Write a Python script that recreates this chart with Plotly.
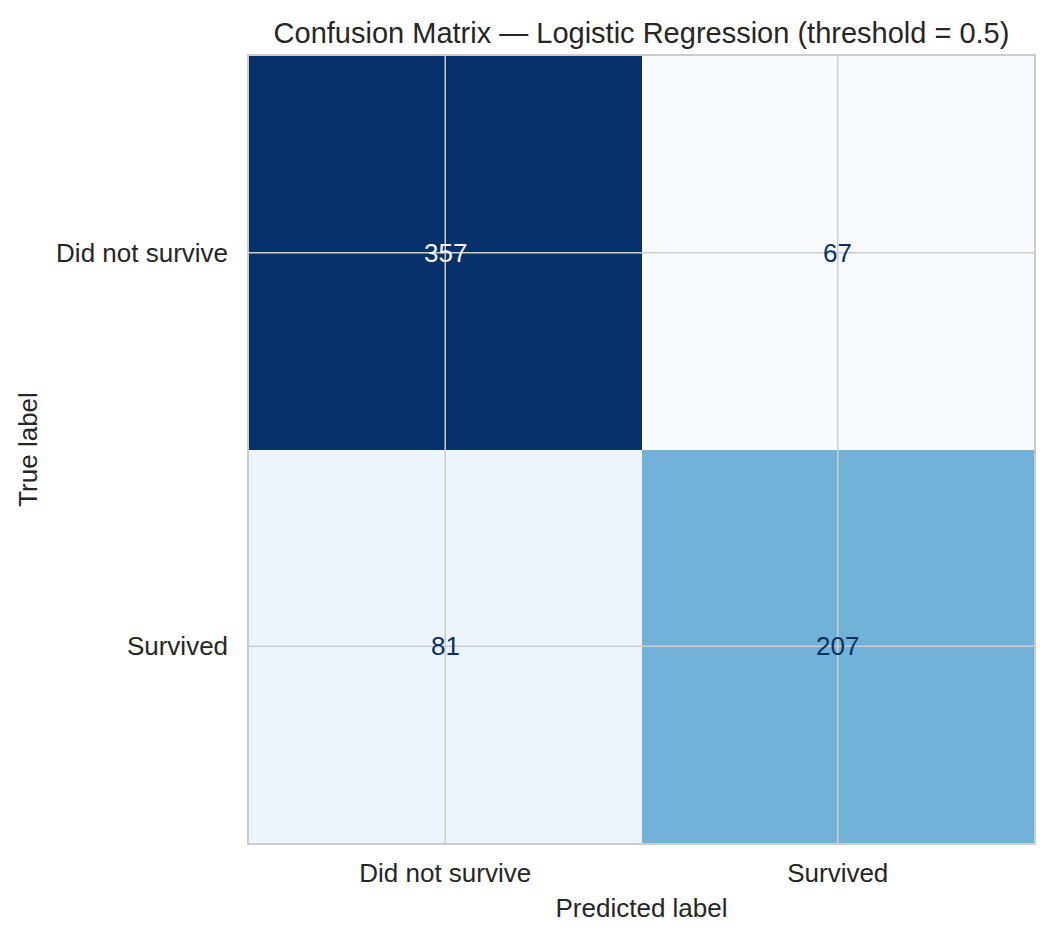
import plotly.graph_objects as go
import plotly.colors as pc

# confusion matrix values (rows = true, cols = predicted)
labels = ["Did not survive", "Survived"]
counts = [[357, 67],
          [81, 207]]
title = "Confusion Matrix \u2014 Logistic Regression (threshold = 0.5)"

blues = pc.sequential.Blues
zmin = min(min(r) for r in counts)
zmax = max(max(r) for r in counts)
thresh = (zmin + zmax) / 2.0

font = "Liberation Sans, Arial, sans-serif"
ink = "#262626"
grid = "#cccccc"

idx = list(range(len(labels)))

fig = go.Figure()
fig.add_trace(go.Heatmap(
    z=counts, x=idx, y=idx,
    colorscale=blues, zmin=zmin, zmax=zmax,
    showscale=False, hoverinfo="z",
))

# grid lines sit on top of the cells, like the seaborn style does
for i in idx:
    fig.add_trace(go.Scatter(x=[i, i], y=[-0.5, len(labels) - 0.5], mode="lines",
                             line=dict(color=grid, width=1.5), hoverinfo="skip", showlegend=False))
    fig.add_trace(go.Scatter(x=[-0.5, len(labels) - 0.5], y=[i, i], mode="lines",
                             line=dict(color=grid, width=1.5), hoverinfo="skip", showlegend=False))

for r, row in enumerate(counts):
    for c, v in enumerate(row):
        fig.add_annotation(x=c, y=r, text=str(v), showarrow=False,
                           font=dict(family=font, size=26,
                                     color=blues[0] if v > thresh else blues[-1]))

# page body adds an 8px margin, so the figure is a bit smaller than the window
W, H = 1039, 924
fig.update_layout(
    width=W, height=H,
    margin=dict(l=241, r=11, t=48, b=89),
    paper_bgcolor="white", plot_bgcolor="white",
    font=dict(family=font, color=ink, size=26),
    title=dict(text=title, x=0.5, xref="paper", y=1 - 25 / H, yanchor="middle",
               font=dict(size=29, color=ink)),
    showlegend=False,
)
fig.update_xaxes(range=[-0.5, len(labels) - 0.5], tickvals=idx, ticktext=labels,
                 showgrid=False, zeroline=False, ticks="", ticklabelstandoff=6,
                 showline=True, mirror=True, linecolor=grid, linewidth=1.5,
                 tickfont=dict(size=26),
                 title=dict(text="Predicted label", standoff=12, font=dict(size=26)))
fig.update_yaxes(range=[len(labels) - 0.5, -0.5], tickvals=idx, ticktext=labels,
                 showgrid=False, zeroline=False, ticks="", ticklabelstandoff=14,
                 showline=True, mirror=True, linecolor=grid, linewidth=1.5,
                 tickfont=dict(size=26),
                 title=dict(text="True label", standoff=11, font=dict(size=26)))

fig.write_html("out.html")
